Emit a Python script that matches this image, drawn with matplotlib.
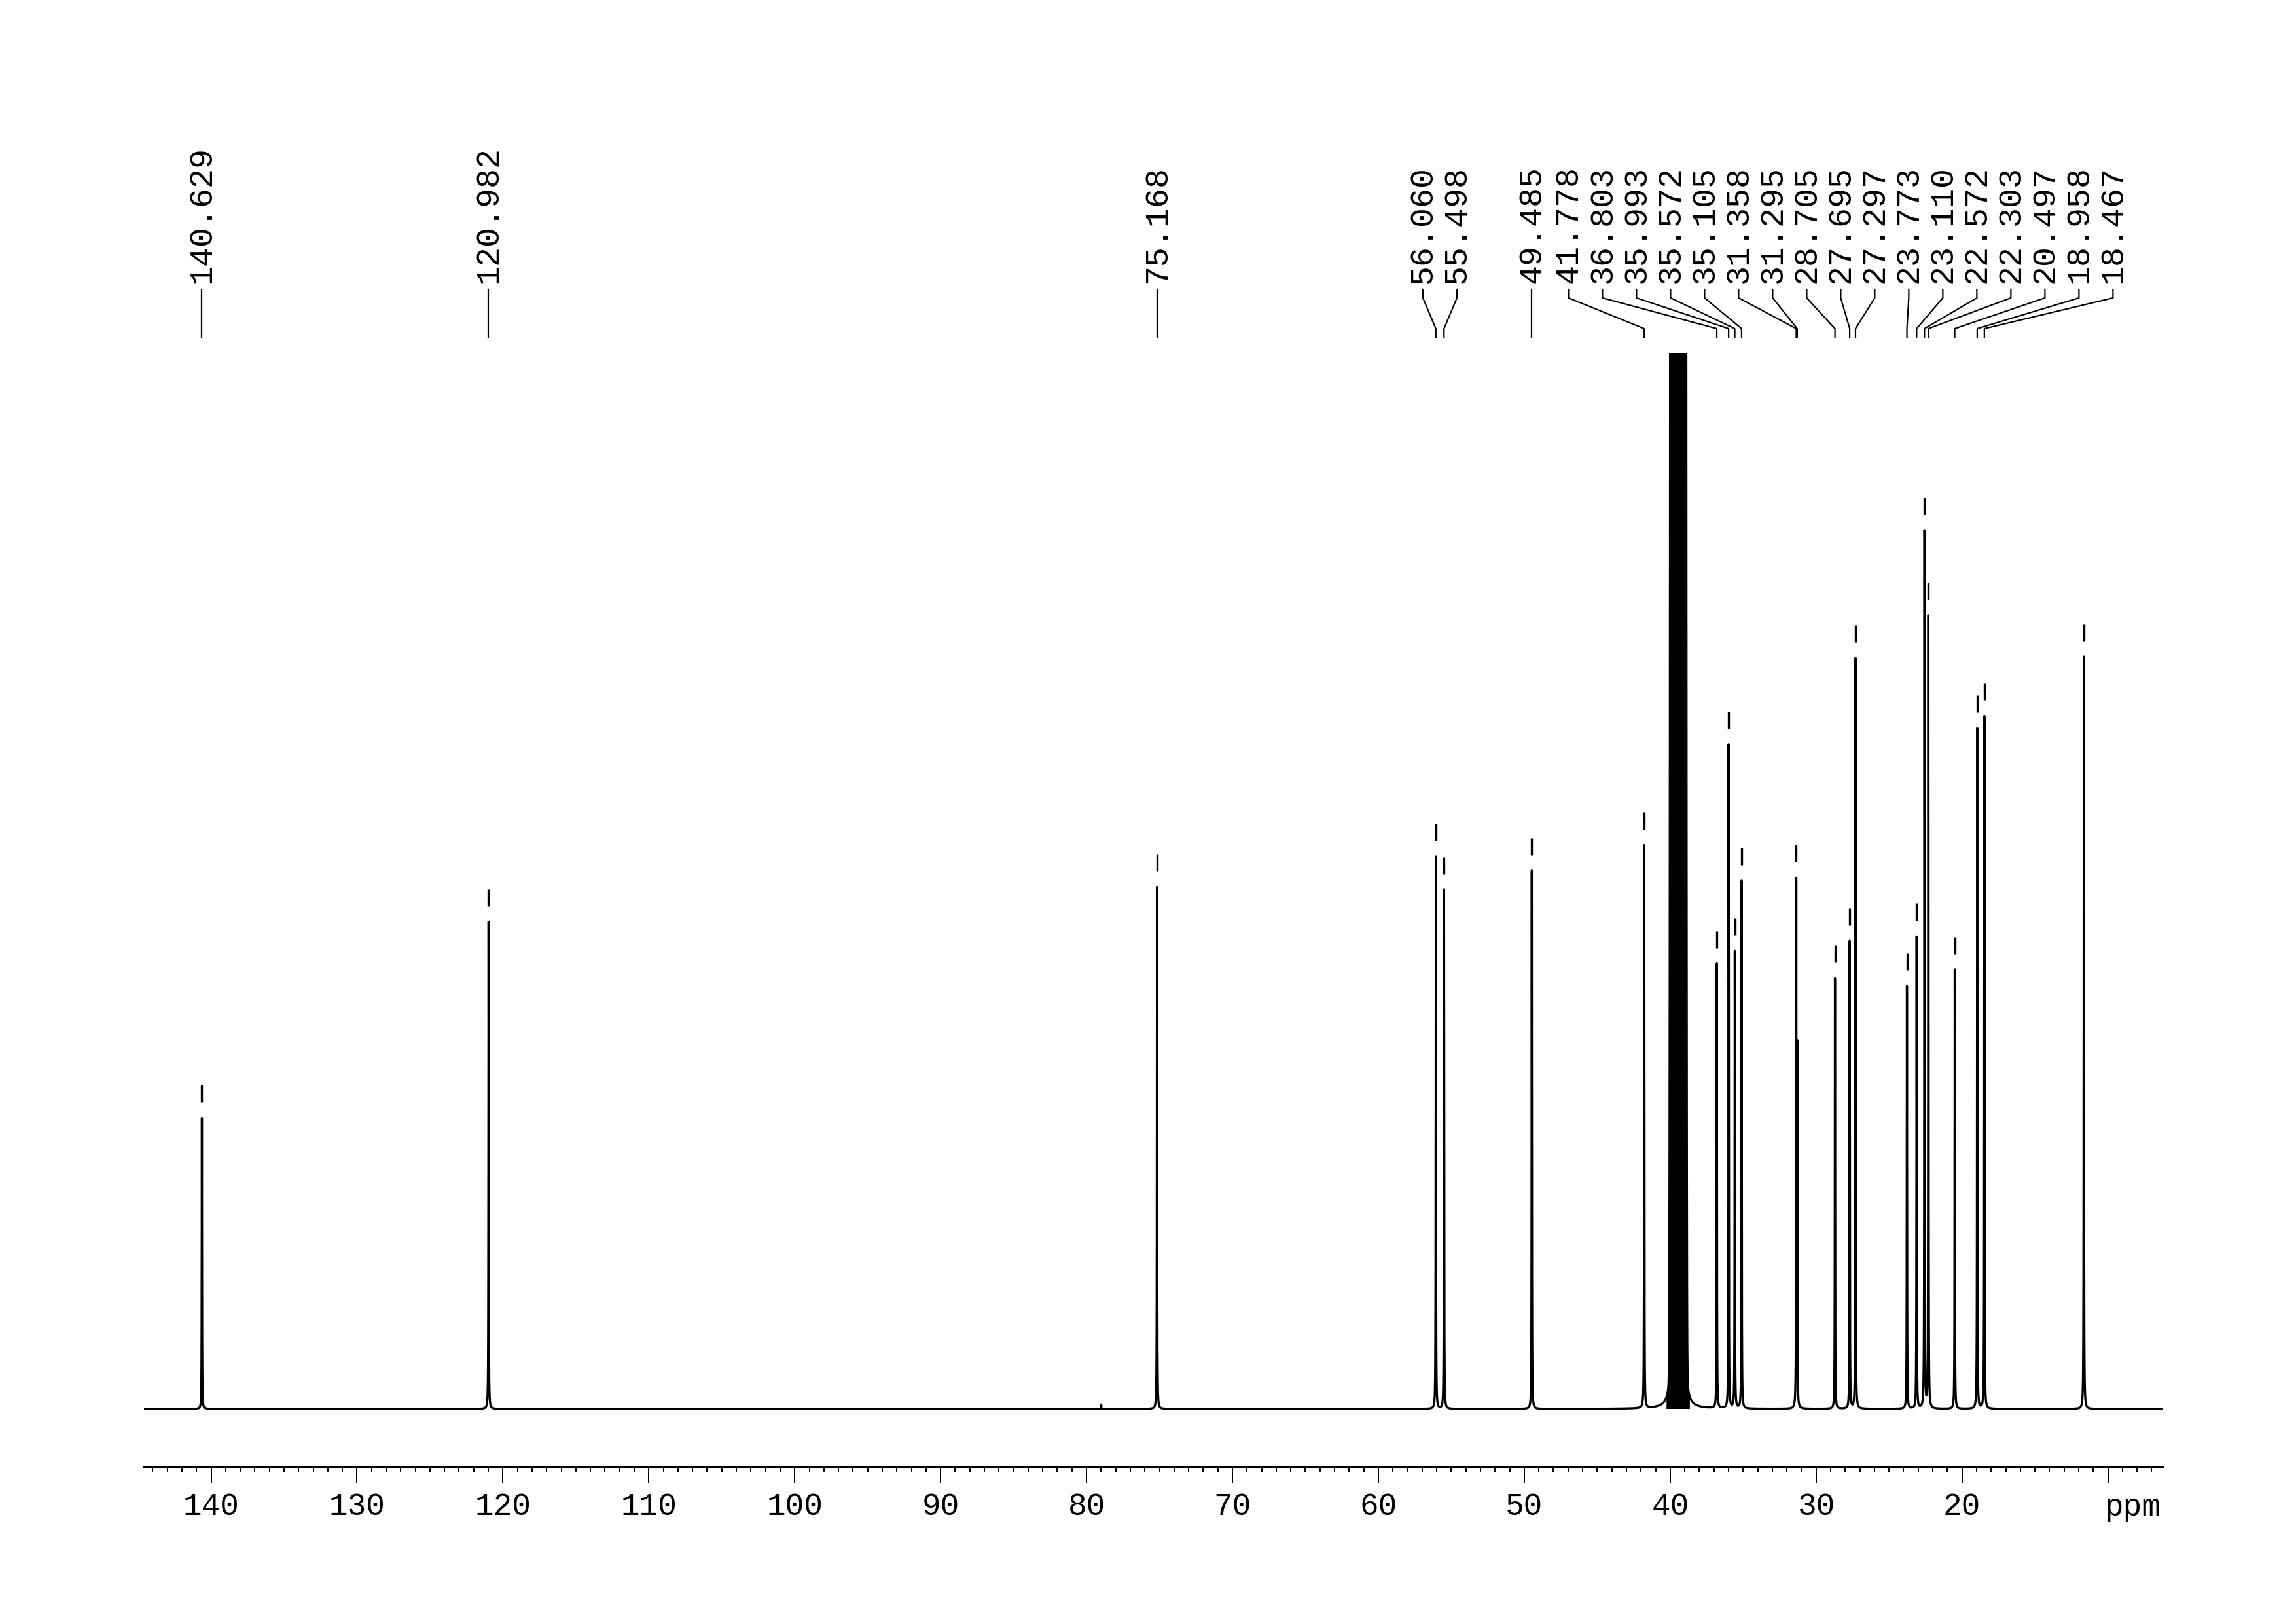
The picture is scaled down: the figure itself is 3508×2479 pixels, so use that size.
import numpy as np
import matplotlib
matplotlib.use("Agg")
import matplotlib.pyplot as plt
from matplotlib.ticker import FixedLocator, MultipleLocator

plt.rcParams['font.family'] = ['Liberation Mono', 'DejaVu Sans Mono']

# ---------------- data ----------------
# labelled peaks (ppm) and their relative heights (tallest picked peak = 100)
peak_ppm = [140.629, 120.982, 75.168, 56.060, 55.498, 49.485, 41.778, 36.803,
            35.993, 35.572, 35.105, 31.358, 31.295, 28.705, 27.695, 27.297,
            23.773, 23.110, 22.572, 22.303, 20.497, 18.958, 18.467]
peak_height = [33.2, 55.6, 59.5, 63.0, 59.2, 61.4, 64.2, 50.7,
               75.7, 52.1, 60.2, 59.2, 40.0, 49.1, 53.3, 85.6,
               48.2, 53.8, 100.0, 90.3, 50.1, 77.6, 79.0]
# peaks without a label
extra_ppm = [11.65, 79.0]
extra_height = [85.8, 0.5]
# solvent (DMSO-d6) septet, off scale
solvent_center = 39.45
solvent_J = 0.167
solvent_pattern = [1, 3, 6, 7, 6, 3, 1]
solvent_outer_height = 250.0
solvent_skirt_height = 100.0
# peaks carrying a peak-pick marker
marked_ppm = [140.629, 120.982, 75.168, 56.060, 55.498, 49.485, 41.778, 36.803,
              35.993, 35.572, 35.105, 31.358, 28.705, 27.695, 27.297,
              23.773, 23.110, 22.572, 22.303, 20.497, 18.958, 18.467, 11.65]
major_ticks = [140, 130, 120, 110, 100, 90, 80, 70, 60, 50, 40, 30, 20, 10]
major_labels = ['140', '130', '120', '110', '100', '90', '80', '70', '60',
                '50', '40', '30', '20', '']
unit_label = 'ppm'

# ---------------- layout (pixels) ----------------
W, H = 3508, 2479
AX_L, AX_R, AX_T, AX_B = 220, 3305, 539, 2240
BASE_Y = 2152
PX_PER_PPM = 22.293
X_REF_PX, X_REF_PPM = 322.5, 140.0
PX_PER_UNIT = 13.39


def px2ppm(xp):
    return X_REF_PPM - (xp - X_REF_PX) / PX_PER_PPM


def ppm2px(p):
    return X_REF_PX + (X_REF_PPM - p) * PX_PER_PPM


xmax, xmin = px2ppm(AX_L), px2ppm(AX_R)
ylo = -(AX_B - BASE_Y) / PX_PER_UNIT
yhi = (BASE_Y - AX_T) / PX_PER_UNIT

fig = plt.figure(figsize=(W / 100, H / 100), dpi=100)
fig.patch.set_facecolor('white')
ax = fig.add_axes([AX_L / W, 1 - AX_B / H, (AX_R - AX_L) / W, (AX_B - AX_T) / H])
ax.set_xlim(xmax, xmin)
ax.set_ylim(ylo, yhi)

# ---------------- spectrum ----------------
sol_pos = [solvent_center + (k - 3) * solvent_J for k in range(7)]
x = np.linspace(xmin, xmax, 90000)
x = np.sort(np.concatenate([x, peak_ppm, extra_ppm, sol_pos]))[::-1]
y = np.zeros_like(x)


def lor(c, h, w):
    return h * w ** 2 / ((x - c) ** 2 + w ** 2)


def gau(c, h, s):
    return h * np.exp(-((x - c) / s) ** 2)


for c, h in zip(peak_ppm + extra_ppm, peak_height + extra_height):
    y += lor(c, h, 0.012)
for c, v in zip(sol_pos, solvent_pattern):
    y += gau(c, solvent_outer_height * v, 0.06)
    y += lor(c, solvent_skirt_height * v, 0.015)

ax.plot(x, y, color='black', lw=2.4)
# the solvent multiplet is so dense that it renders as a solid black column
sol_region = np.abs(x - solvent_center) < 0.8
ax.fill_between(x, 0, y, where=sol_region, color='black', lw=0)

# peak-pick markers
gap_u, len_u = 24 / PX_PER_UNIT, 26 / PX_PER_UNIT
for m in marked_ppm:
    sel = np.abs(x - m) < 0.03
    top = y[sel].max()
    ax.plot([m, m], [top + gap_u, top + gap_u + len_u], color='black', lw=2.4,
            solid_capstyle='butt')

# axis styling
for s in ['top', 'left', 'right']:
    ax.spines[s].set_visible(False)
ax.spines['bottom'].set_linewidth(2.2)
ax.set_yticks([])
ax.xaxis.set_major_locator(FixedLocator(major_ticks))
ax.set_xticklabels(major_labels)
ax.xaxis.set_minor_locator(MultipleLocator(1))
ax.tick_params(axis='x', which='major', direction='out', length=18, width=1.4,
               pad=10, labelsize=34.4)
ax.tick_params(axis='x', which='minor', direction='out', length=5.8, width=1.4)

# ---------------- overlay for peak labels (y in pixels from top) ----------------
ov = fig.add_axes([AX_L / W, 0, (AX_R - AX_L) / W, 1])
ov.set_xlim(xmax, xmin)
ov.set_ylim(H, 0)
ov.axis('off')
ov.patch.set_visible(False)

# spread labels so they do not overlap
DPX = 52.0
desired = [ppm2px(p) for p in peak_ppm]
clusters = []
for i, d in enumerate(desired):
    clusters.append([[i], d])
    while len(clusters) > 1:
        a, b = clusters[-2], clusters[-1]
        a_end = a[1] + (len(a[0]) - 1) * DPX
        if b[1] < a_end + DPX:
            members = a[0] + b[0]
            mean = np.mean([desired[j] for j in members])
            clusters[-2:] = [[members, mean - (len(members) - 1) * DPX / 2]]
        else:
            break
label_px = [0.0] * len(peak_ppm)
for members, start in clusters:
    for k, j in enumerate(members):
        label_px[j] = start + k * DPX

for p, lp in zip(peak_ppm, label_px):
    lx = px2ppm(lp)
    ov.plot([lx, lx, p, p], [442, 455, 502, 515], color='black', lw=1.6)
    ov.text(lx, 433, f"{p:.3f}", rotation=90, ha='center', va='bottom',
            fontsize=36, color='black')

ov.text(px2ppm(3259), 2315, unit_label, ha='center', va='baseline',
        fontsize=34.4, color='black')

fig.savefig('out.png', dpi=100, facecolor='white')
